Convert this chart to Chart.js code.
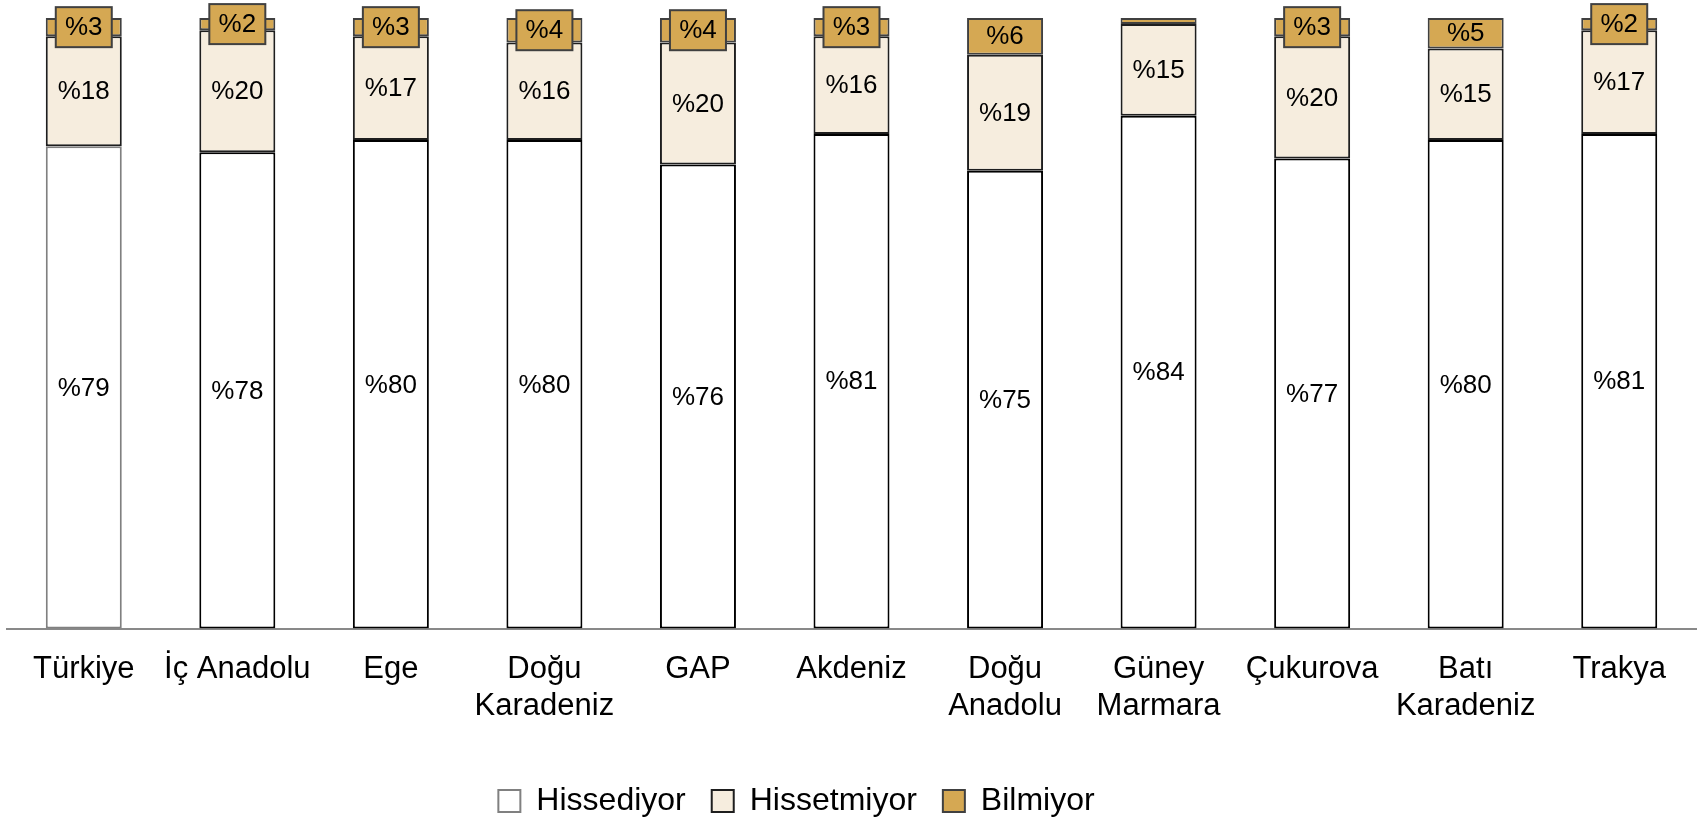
<!DOCTYPE html>
<html>
<head>
<meta charset="utf-8">
<script src="https://cdn.jsdelivr.net/npm/chart.js@4.4.1/dist/chart.umd.min.js"></script>
<style>
  html, body { margin: 0; padding: 0; background: #fff; }
  #wrap { width: 1702px; height: 818px; }
</style>
</head>
<body>
<div id="wrap"><canvas id="regionChart"></canvas></div>
<script>
const regions = [
  'Türkiye',
  'İç Anadolu',
  'Ege',
  ['Doğu', 'Karadeniz'],
  'GAP',
  'Akdeniz',
  ['Doğu', 'Anadolu'],
  ['Güney', 'Marmara'],
  'Çukurova',
  ['Batı', 'Karadeniz'],
  'Trakya'
];

const hissediyor   = [79, 78, 80, 80, 76, 81, 75, 84, 77, 80, 81];
const hissetmiyor  = [18, 20, 17, 16, 20, 16, 19, 15, 20, 15, 17];
const bilmiyor     = [3, 2, 3, 4, 4, 3, 6, 1, 3, 5, 2];

const FONT = 'Arial, "Liberation Sans", sans-serif';

// labels inside the bars, the small "Bilmiyor" ones get a box
const segmentLabels = {
  id: 'segmentLabels',
  afterDatasetsDraw(chart) {
    const ctx = chart.ctx;
    ctx.save();
    ctx.font = '26px ' + FONT;
    ctx.textAlign = 'center';
    ctx.textBaseline = 'middle';
    chart.data.datasets.forEach((ds, di) => {
      const meta = chart.getDatasetMeta(di);
      meta.data.forEach((bar, i) => {
        const v = ds.data[i];
        if (v < 2) return;
        const cy = (bar.y + bar.base) / 2;
        if (di === 2 && v < 5) {
          ctx.fillStyle = '#D5A853';
          ctx.strokeStyle = '#404040';
          ctx.lineWidth = 2;
          ctx.fillRect(bar.x - 28, cy - 20, 56, 40);
          ctx.strokeRect(bar.x - 28, cy - 20, 56, 40);
        }
        ctx.fillStyle = '#000';
        ctx.fillText('%' + v, bar.x, cy + 1);
      });
    });
    ctx.restore();
  }
};

// legend sits a bit left of the middle in the original
const legendShift = {
  id: 'legendShift',
  afterLayout(chart) {
    chart.legend.left -= 55;
    chart.legend.right -= 55;
  }
};

const chartData = {
  labels: regions,
  datasets: [
    {
      label: 'Hissediyor',
      data: hissediyor,
      backgroundColor: '#FFFFFF',
      borderColor: (c) => c.dataIndex === 0 ? '#808080' : '#000000',
    },
    {
      label: 'Hissetmiyor',
      data: hissetmiyor,
      backgroundColor: '#F6EDDE',
      borderColor: '#1E1E1E',
    },
    {
      label: 'Bilmiyor',
      data: bilmiyor,
      backgroundColor: '#D5A853',
      borderColor: '#404040',
    }
  ]
};

const chartOptions = {
  responsive: true,
  maintainAspectRatio: false,
  animation: false,
  datasets: {
    bar: {
      borderWidth: 2,
      borderSkipped: false,
      categoryPercentage: 1,
      barPercentage: 0.495
    }
  },
  layout: {
    padding: { left: 7, right: 6, top: 18, bottom: -9 }
  },
  plugins: {
    tooltip: { enabled: false },
    legend: {
      position: 'bottom',
      labels: {
        color: '#000',
        font: { family: FONT, size: 32 },
        boxWidth: 22,
        boxHeight: 22,
        padding: 26
      }
    }
  },
  scales: {
    x: {
      stacked: true,
      grid: { display: false, drawTicks: false },
      border: { color: '#898989', width: 2 },
      ticks: {
        color: '#000',
        font: { family: FONT, size: 31, lineHeight: 1.2 },
        padding: 22,
        maxRotation: 0,
        autoSkip: false
      },
      afterFit(scale) {
        scale.height += 12;
      }
    },
    y: {
      stacked: true,
      display: false,
      min: 0,
      max: 100
    }
  }
};

const regionChart = new Chart(
  document.getElementById('regionChart'),
  { type: 'bar', data: chartData, options: chartOptions, plugins: [segmentLabels, legendShift] }
);
</script>
</body>
</html>
